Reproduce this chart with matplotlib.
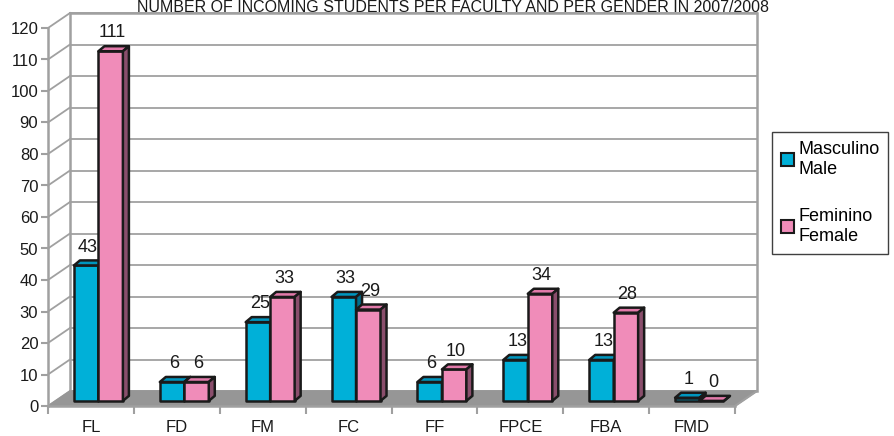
import numpy as np
import matplotlib.pyplot as plt
from matplotlib.patches import Polygon, Patch

plt.rcParams['font.family'] = ['Liberation Sans', 'DejaVu Sans']

# data
faculties = ["FL", "FD", "FM", "FC", "FF", "FPCE", "FBA", "FMD"]
male = [43, 6, 25, 33, 6, 13, 13, 1]
female = [111, 6, 33, 29, 10, 34, 28, 0]
series_names = ["Masculino\nMale", "Feminino\nFemale"]
title = "NUMBER OF INCOMING STUDENTS PER FACULTY AND PER GENDER IN 2007/2008"

# colours: front, top, side
blue = ("#00B0D8", "#0096BE", "#006E8C")
pink = ("#F08CB9", "#E27AAA", "#8A4E6C")
wall = "#A0A0A0"
floor = "#969696"

# depth of the box and of the bars (data units)
DX, DY = 0.256, 4.76
F = 0.34          # depth position of bars within the floor
BW = 0.285        # bar width
BDX, BDY = 0.07, 1.6

fig = plt.figure(figsize=(8.94, 4.36), dpi=100)
ax = fig.add_axes([48 / 894, 30 / 436, 687 / 894, 378 / 436])
ax.set_xlim(-0.5, len(faculties) - 0.5)
ax.set_ylim(0, 120)
ax.patch.set_visible(False)
x0, x1 = ax.get_xlim()

# back wall + grid
ax.add_patch(Polygon([(x0 + DX, DY), (x1 + DX, DY), (x1 + DX, 120 + DY), (x0 + DX, 120 + DY)],
                     closed=True, facecolor="white", edgecolor=wall, lw=1.8, clip_on=False, zorder=0))
for v in range(0, 130, 10):
    ax.plot([x0 + DX, x1 + DX], [v + DY, v + DY], color=wall, lw=1.3, clip_on=False, zorder=1)
    ax.plot([x0, x0 + DX], [v, v + DY], color=wall, lw=1.3, clip_on=False, zorder=1)

# floor
ax.add_patch(Polygon([(x0, 0), (x1, 0), (x1 + DX, DY), (x0 + DX, DY)], closed=True,
                     facecolor=floor, edgecolor=floor, lw=1, clip_on=False, zorder=2))
ax.plot([x1, x1 + DX], [0, DY], color=wall, lw=1.5, clip_on=False, zorder=2)


def bar3d(left, h, cols):
    b = F * DY
    r = left + BW
    kw = dict(closed=True, edgecolor="#1A1A1A", lw=1.8, joinstyle="round", clip_on=False, zorder=3)
    ax.add_patch(Polygon([(left, b), (r, b), (r, b + h), (left, b + h)], facecolor=cols[0], **kw))
    ax.add_patch(Polygon([(left, b + h), (r, b + h), (r + BDX, b + h + BDY), (left + BDX, b + h + BDY)],
                         facecolor=cols[1], **kw))
    ax.add_patch(Polygon([(r, b), (r + BDX, b + BDY), (r + BDX, b + h + BDY), (r, b + h)],
                         facecolor=cols[2], **kw))
    ax.text(left + BW / 2 + 0.02, b + h + BDY + 1.5, str(h), ha="center", va="bottom",
            fontsize=13, color="#1A1A1A", zorder=4)


for i in range(len(faculties)):
    c = i + F * DX
    bar3d(c - BW, male[i], blue)
    bar3d(c, female[i], pink)

# axes and ticks
for s in ["top", "right"]:
    ax.spines[s].set_visible(False)
for s in ["left", "bottom"]:
    ax.spines[s].set_color(wall)
    ax.spines[s].set_linewidth(1.8)
ax.set_yticks(range(0, 130, 10))
ax.set_xticks(range(len(faculties)))
ax.set_xticklabels(faculties)
ax.set_xticks(np.arange(x0, x1 + 0.01, 1), minor=True)
ax.tick_params(axis="y", length=5, width=1.5, color=wall, labelsize=12, pad=2, labelcolor="#1A1A1A")
ax.tick_params(axis="x", which="major", length=0, labelsize=12, pad=10, labelcolor="#1A1A1A")
ax.tick_params(axis="x", which="minor", length=6, width=1.5, color=wall)

fig.text(453 / 894, 1 - 7 / 436, title, ha="center", va="center", fontsize=11.5, color="#1A1A1A")

handles = [Patch(facecolor=blue[0], edgecolor="#1A1A1A", lw=1.5),
           Patch(facecolor=pink[0], edgecolor="#1A1A1A", lw=1.5)]
fig.legend(handles, series_names, loc="upper left", bbox_to_anchor=(772 / 894, 1 - 132 / 436),
           fontsize=13, frameon=True, fancybox=False, edgecolor="#404040", framealpha=1,
           handlelength=0.7, handleheight=0.7, handletextpad=0.25, labelspacing=1.7,
           borderpad=0.5, borderaxespad=0)

fig.savefig("out.png", dpi=100)
